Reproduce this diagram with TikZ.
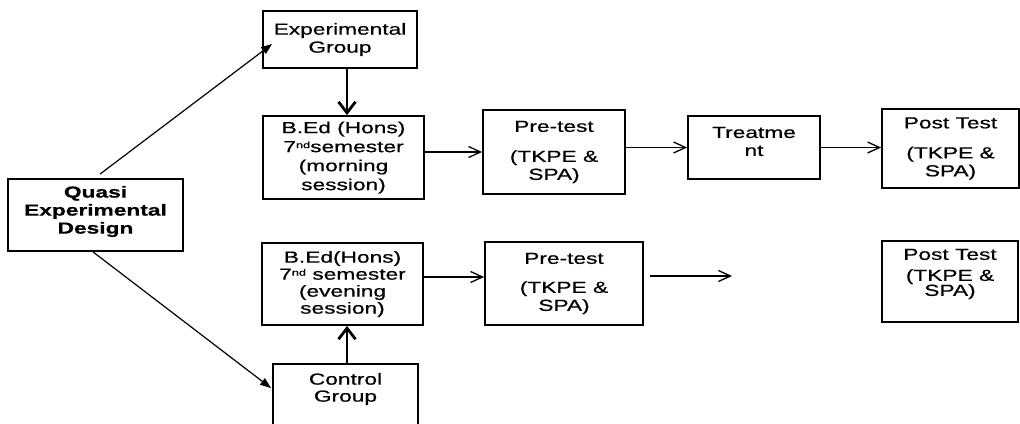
\documentclass[tikz,border=0pt]{standalone}
\usepackage{fontspec}
\setmainfont[FakeStretch=1.42,FakeBold=0.6]{Liberation Sans}
\usetikzlibrary{arrows.meta}
\begin{document}
\begin{tikzpicture}[x=1pt,y=-1pt,
  box/.style={draw, line width=1.8pt, inner sep=0pt, align=center, font=\fontsize{16}{18}\selectfont},
  txt/.style={inner sep=0pt, align=center, font=\fontsize{16}{18}\selectfont},
  sup/.style={},
  flow/.style={line width=1.3pt, -{Straight Barb[length=12pt,width=11pt]}},
  diag/.style={line width=1.2pt, -{Triangle[length=11pt,width=8pt]}},
  heavy/.style={line width=2.8pt, -{Straight Barb[length=11pt,width=17pt]}}]
\useasboundingbox (0,0) rectangle (1020,423);
\clip (0,0) rectangle (1020,423);
% boxes
\node[box, minimum width=175pt, minimum height=72pt] (q) at (95.5,215) {};
\node[txt, font=\fontsize{16}{18}\selectfont\bfseries] (qt) at (95.5,211.5) {Quasi\\Experimental\\Design};
\node[box, minimum width=154pt, minimum height=57pt] (eg) at (340,39.5) {Experimental\\Group};
\node[box, minimum width=161pt, minimum height=83pt] (bm) at (343.5,157.5) {B.Ed (Hons)\\[1pt]7\raisebox{4pt}{\fontsize{9}{9}\selectfont nd}semester\\[1pt](morning\\[1pt]session)};
\node[box, minimum width=142pt, minimum height=84pt] (pt1) at (554,152) {Pre-test\\[12pt](TKPE~\&\\SPA)};
\node[box, minimum width=132pt, minimum height=63pt] (tr) at (754,147.5) {};
\node[txt] (trt) at (754,141.5) {Treatme\\nt};
\node[box, minimum width=137pt, minimum height=79pt] (po1) at (950.5,148.5) {Post Test\\[12pt](TKPE~\&\\SPA)};
\node[box, minimum width=161pt, minimum height=82pt] (be) at (342.5,284) {B.Ed(Hons)\\[-1pt]7\raisebox{4pt}{\fontsize{9}{9}\selectfont nd} semester\\[-1pt](evening\\[-1pt]session)};
\node[box, minimum width=158pt, minimum height=83pt] (pb) at (564,283.5) {Pre-test\\[11pt](TKPE~\&\\SPA)};
\node[box, minimum width=136pt, minimum height=81pt] (po2) at (950,281.5) {};
\node[txt] (po2t) at (950,274) {Post Test\\[3pt](TKPE~\&\\[-3pt]SPA)};
\node[box, minimum width=145pt, minimum height=76pt] (cg) at (345.5,402) {};
\node[txt] (cgt) at (345.5,389) {Control\\[-1pt]Group};
\coordinate (fe) at (732,276);
% connectors
\draw[diag] ([xshift=4.5pt,yshift=4pt]q.north) -- ([xshift=10pt,yshift=-4.5pt]eg.west);
\draw[diag] ([xshift=-2.5pt]q.south) -- ([xshift=-1pt,yshift=-25pt]cg.north west);
\draw[heavy] ([xshift=7pt]eg.south) -- ([xshift=7pt]eg.south |- bm.north);
\draw[heavy] ([xshift=1.5pt]cg.north) -- ([xshift=1.5pt]cg.north |- be.south);
\draw[flow] (bm.east |- pt1.west) -- (pt1.west);
\draw[flow] (pt1.east |- tr.west) -- (tr.west);
\draw[flow] (tr.east) -- (tr.east -| po1.west);
\draw[flow] ([yshift=7pt]be.east) -- ([yshift=7pt]be.east -| pb.west);
\draw[flow] ([xshift=6pt,yshift=7.5pt]pb.east) -- (fe);
\end{tikzpicture}
\end{document}
